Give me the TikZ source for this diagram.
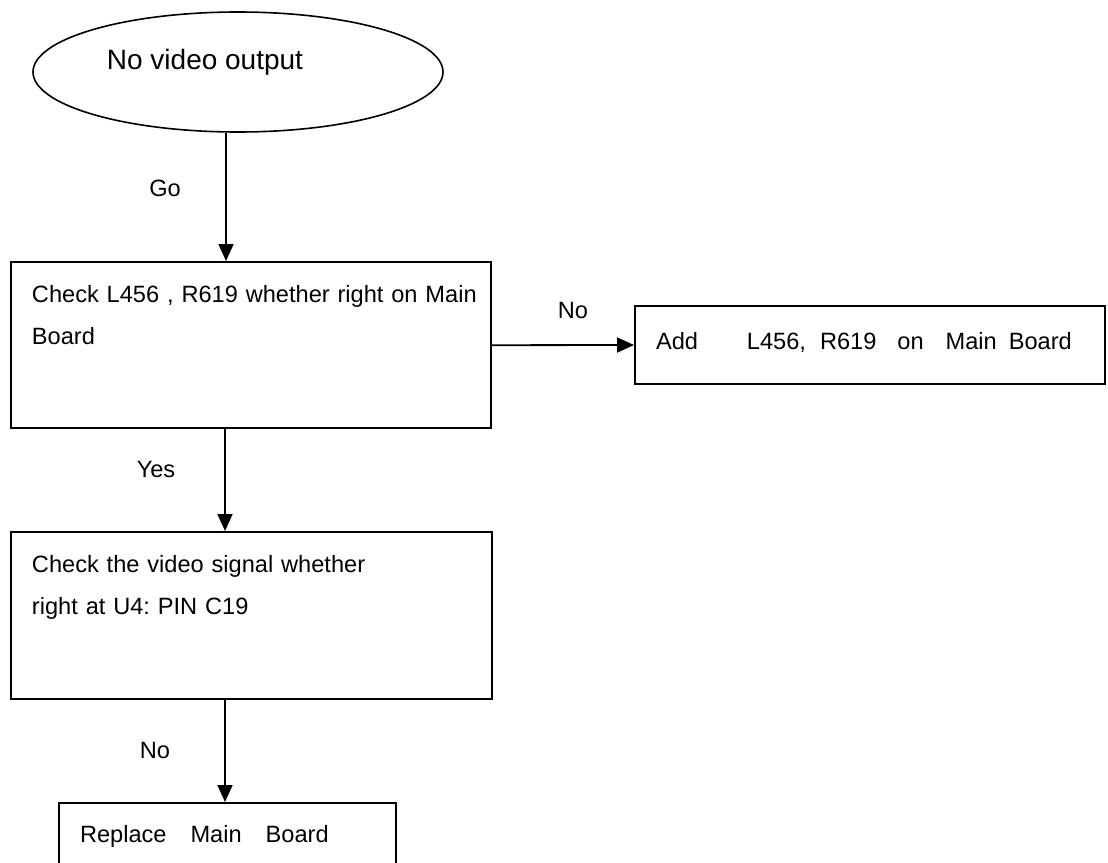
\documentclass[tikz,border=0pt]{standalone}
\usepackage{fontspec}
\setmainfont{Liberation Sans}
\usetikzlibrary{arrows.meta,positioning,shapes.geometric}
\frenchspacing

\begin{document}
\begin{tikzpicture}[
    x=0.5pt, y=-0.5pt,
    oval/.style={draw, ellipse, line width=0.8pt, minimum width=205pt, minimum height=60pt, inner sep=0pt},
    box/.style={draw, line width=1pt, anchor=north west, align=left, inner xsep=10.5pt, inner ysep=11.7pt, text height=8.5pt, font=\fontsize{11.8}{21}\selectfont},
    tag/.style={font=\fontsize{11.8}{14}\selectfont, inner sep=0pt},
    arrow/.style={-{Triangle[length=8.5pt, width=7.5pt]}, line width=0.9pt}
  ]
    \clip (0,0) rectangle (1108,862);
    \node[oval, label={[font=\fontsize{14}{17}\selectfont, xshift=-16.5pt, yshift=5pt]center:No video output}] (start) at (238,72) {};
    \node[box, text width=219pt, text depth=51.3pt] (check) at (10,261) {\mbox{Check L456 , R619 whether right on Main}\\Board};
    \node[box, text width=214pt, inner ysep=13.25pt, text depth=4pt] (add) at (634,305) {Add\hspace{24.5pt}L456,\hspace{7pt}R619\hspace{10.5pt}on\hspace{11pt}Main\hspace{6pt}Board};
    \node[box, text width=219.5pt, text depth=51.8pt] (signal) at (10,531) {Check the video signal whether\\right at U4: PIN C19};
    \node[box, text width=147.5pt, inner ysep=11.25pt, text depth=30pt] (replace) at (58,802) {Replace\hspace{12pt}Main\hspace{12pt}Board};
    \node[tag] (go) at (165,188) {Go};
    \node[tag] (no1) at (573,310) {No};
    \node[tag] (yes) at (156,469) {Yes};
    \node[tag] (no2) at (155,750) {No};
    \draw[arrow] ([xshift=-6pt]start.south) -- ([xshift=-6pt]start.south |- check.north);
    \draw[arrow] (check.east) -- (add.west);
    \draw[arrow] ([xshift=-13pt]check.south) -- ([xshift=-13pt]check.south |- signal.north);
    \draw[arrow] ([xshift=-13.25pt]signal.south) -- ([xshift=-13.25pt]signal.south |- replace.north);
  \end{tikzpicture}
\end{document}
